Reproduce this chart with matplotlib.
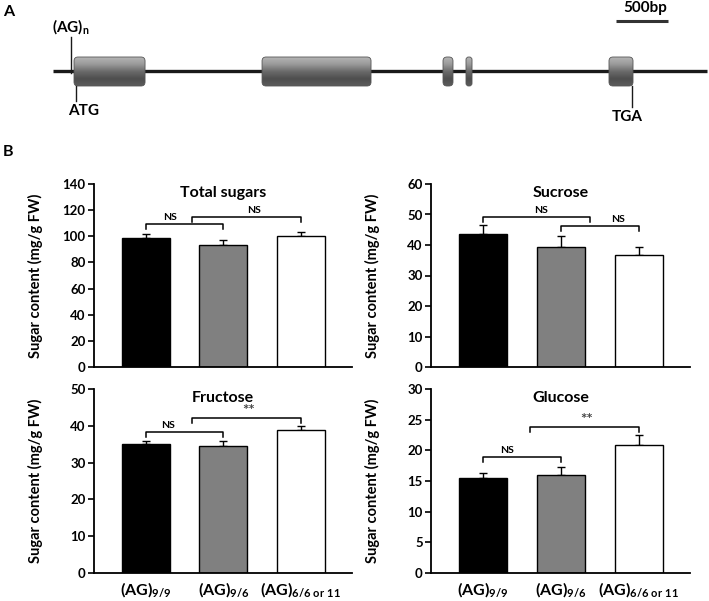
import numpy as np
import matplotlib
matplotlib.use("Agg")
import matplotlib.pyplot as plt
from matplotlib.patches import FancyBboxPatch
from matplotlib.colors import LinearSegmentedColormap

plt.rcParams['font.family'] = ['Lato', 'DejaVu Sans']
plt.rcParams['font.weight'] = 'bold'
plt.rcParams['axes.labelweight'] = 'bold'
plt.rcParams['mathtext.fontset'] = 'custom'
plt.rcParams['mathtext.rm'] = 'Lato:bold'
plt.rcParams['mathtext.it'] = 'Lato:bold'
plt.rcParams['mathtext.bf'] = 'Lato:bold'

# --- panel A: gene model (positions in bp from start of drawn line)
gene_len = 6290
exon_start = [202, 2010, 3750, 3971, 5346]
exon_end = [885, 3058, 3846, 4029, 5577]
ag_pos = 173
atg_pos = 221
tga_pos = 5567
scale_start = 5413
scale_len = 500

# --- panel B: sugar contents
groups = ['(AG)$_{9/9}$', '(AG)$_{9/6}$', '(AG)$_{\\mathrm{6/6\\ or\\ 11}}$']
bar_colors = ['black', '#808080', 'white']
titles = ['Total sugars', 'Sucrose', 'Fructose', 'Glucose']
means = [[98.7, 93.3, 100.2],
         [43.5, 39.5, 36.7],
         [35.0, 34.6, 38.8],
         [15.5, 15.9, 20.9]]
errs = [[3.0, 3.9, 3.1],
        [3.0, 3.4, 2.5],
        [0.8, 1.2, 1.2],
        [0.8, 1.4, 1.6]]
ymax = [140, 60, 50, 30]
ystep = [20, 10, 10, 5]
# significance brackets: (left, right, label)
pairs = [[(0, 1, 'NS'), (0.59, 2, 'NS')],
         [(0, 1.38, 'NS'), (1, 2, 'NS')],
         [(0, 1, 'NS'), (0.6, 2, '**')],
         [(0, 1, 'NS'), (0.6, 2, '**')]]
pair_h = [[109.4, 114.7], [49.2, 46.2], [38.3, 42.1], [18.9, 23.8]]
label_x = [[0.31, 1.39], [0.74, 1.73], [0.28, 1.32], [0.31, 1.33]]

W, H = 709, 601
fig = plt.figure(figsize=(W / 100, H / 100), dpi=100)

# ---------------- A
px_per_bp = 52 / 500
line_x0 = 53
ax_a = fig.add_axes([0, 1 - 130 / H, 1, 130 / H])
ax_a.axis('off')

ax_a.plot([0, gene_len], [71, 71], color='#1a1a1a', lw=2.4, solid_capstyle='butt', zorder=1)
cmap = LinearSegmentedColormap.from_list('exon', ['#b4b4b4', '#999999', '#6a6a6a', '#4e4e4e', '#5c5c5c'])
grad = np.linspace(0, 1, 64).reshape(-1, 1)
for s, e in zip(exon_start, exon_end):
    r_px = min(4, (e - s) * px_per_bp / 2 - 0.3)
    box = FancyBboxPatch((s, 57), e - s, 29,
                         boxstyle='round,pad=0,rounding_size=%f' % (r_px / px_per_bp),
                         mutation_aspect=px_per_bp, fc='none', ec='#555555', lw=0.6, zorder=3)
    ax_a.add_patch(box)
    im = ax_a.imshow(grad, extent=[s, e, 86, 57], cmap=cmap, aspect='auto', zorder=2)
    im.set_clip_path(box)
ax_a.set_xlim(-line_x0 / px_per_bp, (W - line_x0) / px_per_bp)
ax_a.set_ylim(130, 0)

ax_a.plot([ag_pos, ag_pos], [37, 73], color='#1a1a1a', lw=1.0, zorder=4)
ax_a.text(ag_pos + 2, 36, '(AG)$_{\\mathrm{n}}$', ha='center', va='bottom', fontsize=11)
ax_a.plot([atg_pos, atg_pos], [86, 101], color='#1a1a1a', lw=1.0, zorder=4)
ax_a.text(atg_pos + 70, 104, 'ATG', ha='center', va='top', fontsize=11)
ax_a.plot([tga_pos, tga_pos], [86, 107], color='#1a1a1a', lw=1.0, zorder=4)
ax_a.text(tga_pos - 50, 110, 'TGA', ha='center', va='top', fontsize=11)
ax_a.plot([scale_start, scale_start + scale_len], [21, 21], color='#333333', lw=2.2, solid_capstyle='butt')
ax_a.text(scale_start + scale_len / 2 + 30, 15, '500bp', ha='center', va='bottom', fontsize=11)

fig.text(3 / W, 1 - 12 / H, 'A', ha='left', va='center', fontsize=11.5)
fig.text(3 / W, 1 - 152 / H, 'B', ha='left', va='center', fontsize=11.5)

# ---------------- B
lefts = [94, 431, 94, 431]
tops = [184, 184, 389, 389]
bots = [367, 367, 573, 573]
widths = [258, 259, 258, 259]
x = np.arange(3)

for i in range(4):
    ax = fig.add_axes([lefts[i] / W, 1 - bots[i] / H, widths[i] / W, (bots[i] - tops[i]) / H])
    ax.bar(x, means[i], width=0.62, color=bar_colors, edgecolor='black', linewidth=1.0, zorder=2)
    ax.errorbar(x, means[i], yerr=[np.zeros(3), errs[i]], fmt='none', ecolor='black',
                elinewidth=1.0, capsize=3, capthick=1.0, zorder=1)
    ax.set_xlim(-0.67, 2.66)
    ax.set_ylim(0, ymax[i])
    yt = np.arange(0, ymax[i] + 1, ystep[i])
    ax.set_yticks(yt)
    ax.set_yticklabels([str(v) for v in yt], fontweight='bold')
    ax.tick_params(axis='y', labelsize=9.5, width=1.2, length=4, direction='out', pad=2)
    for sp in ['top', 'right']:
        ax.spines[sp].set_visible(False)
    for sp in ['left', 'bottom']:
        ax.spines[sp].set_linewidth(1.3)
    if i >= 2:
        ax.set_xticks(x)
        ax.set_xticklabels(groups, fontsize=11.5)
        ax.tick_params(axis='x', length=0, pad=5)
    else:
        ax.set_xticks([])
    ax.set_ylabel('Sugar content (mg/g FW)', fontsize=10.5, fontweight='bold')
    ax.yaxis.set_label_coords(-51 / widths[i], 0.5)
    ax.text(0.5, 0.95, titles[i], transform=ax.transAxes, ha='center', va='center', fontsize=11.5)

    leg = ymax[i] * 5 / 183
    for (l, r, lab), h, lx in zip(pairs[i], pair_h[i], label_x[i]):
        ax.plot([l, l, r, r], [h - leg, h, h, h - leg], color='black', lw=1.1, zorder=3)
        if lab == '**':
            ax.text(lx, h, lab, ha='center', va='bottom', fontsize=11, color='#444444')
        else:
            ax.text(lx, h + ymax[i] * 2 / 183, lab, ha='center', va='bottom', fontsize=7.5)

fig.savefig('out.png', dpi=100)
